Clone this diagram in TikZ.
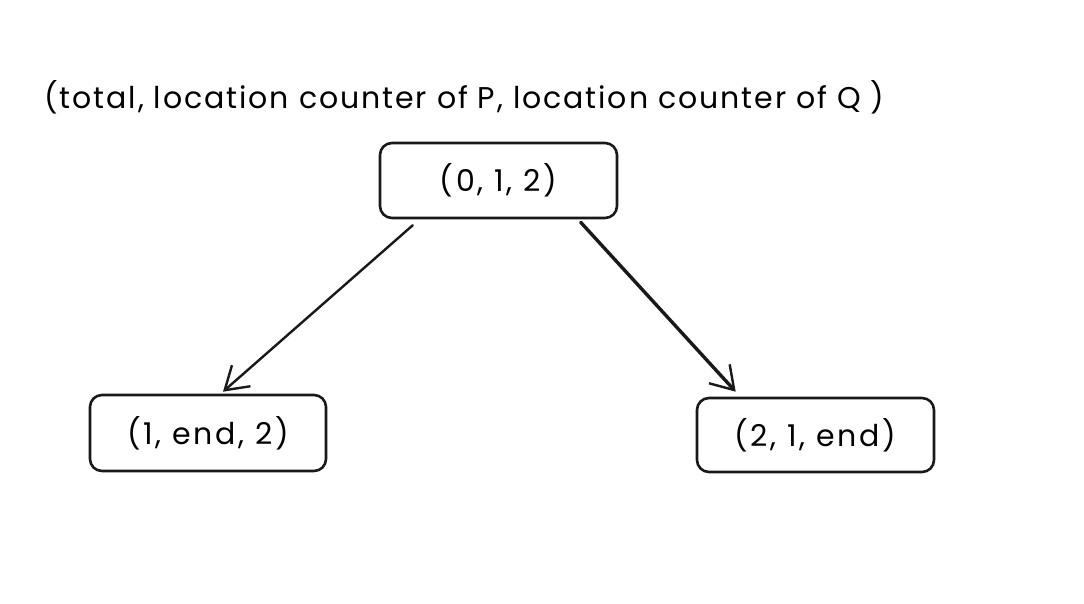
\documentclass[tikz,border=0pt]{standalone}
\usepackage{fontspec}
\setmainfont{Poppins}
\usetikzlibrary{arrows.meta,calc}
\begin{document}
\begin{tikzpicture}[x=1pt,y=-1pt,
  box/.style={draw=black!90, line width=2.6pt, rounded corners=12pt, inner sep=0pt, font=\fontsize{30}{34}\selectfont\addfontfeature{LetterSpace=9}},
  conn/.style={draw=black!90, line width=2.4pt, line cap=round, -{Straight Barb[length=22pt,width=28pt,line width=2.4pt]}},
  lbl/.style={font=\fontsize{30}{34}\selectfont\addfontfeature{LetterSpace=6.4}, inner sep=0pt}]
\useasboundingbox (0,0) rectangle (1084,604);
\node[lbl, anchor=west] (title) at (44,97) {(total, location counter of P, location counter of Q )};
\node[box, minimum width=237pt, minimum height=75pt] (top) at (498.5,180.5) {(0, 1, 2)};
\node[box, minimum width=236pt, minimum height=76pt] (left) at (208,433) {(1, end, 2)};
\node[box, minimum width=237pt, minimum height=74pt] (right) at (815.5,435) {(2, 1, end)};
\draw[conn] ($(top.south west)+(34,6)$) -- ($(left.north)+(15,-2)$);
\draw[conn, line width=3.4pt] ($(top.south west)+(202,3)$) -- ($(right.north west)+(40,-5)$);
\end{tikzpicture}
\end{document}
